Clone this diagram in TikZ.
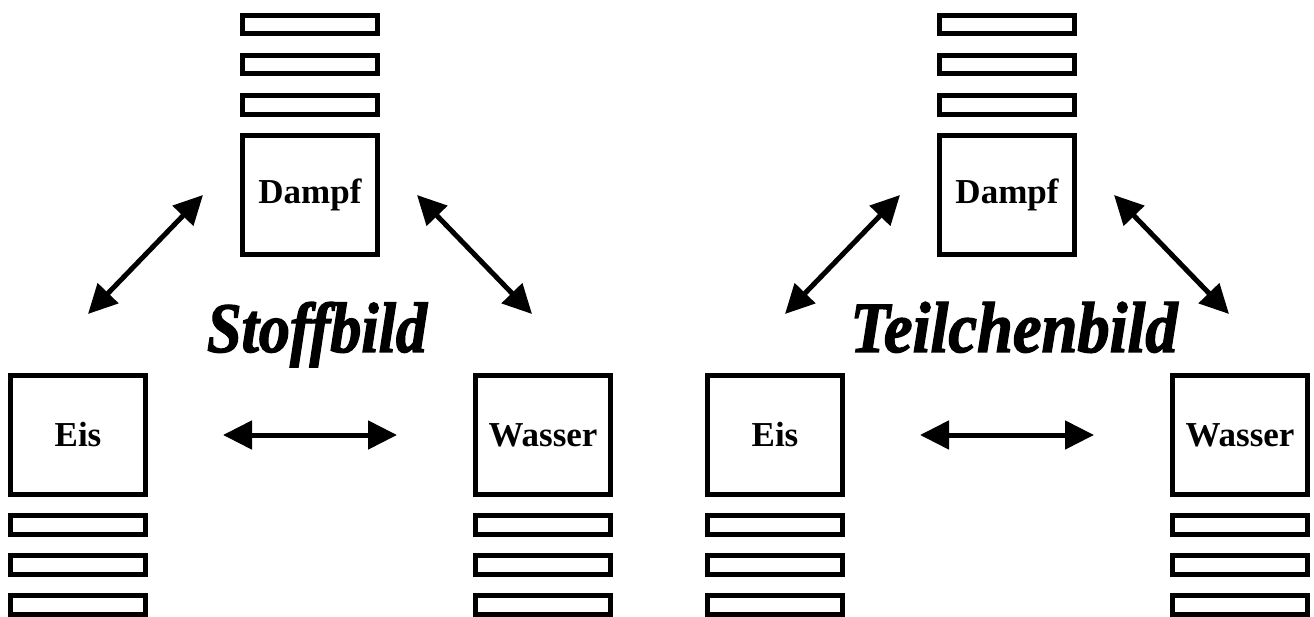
\documentclass[tikz,border=0pt]{standalone}
\usepackage{fontspec}
\setmainfont{Liberation Serif}
\newfontfamily\titlefont[FakeBold=2]{Liberation Serif}
\usetikzlibrary{arrows.meta}
\tikzset{
  phase/.style={draw, line width=5pt, minimum width=135pt, minimum height=119pt,
    inner sep=0pt, font=\fontsize{35}{40}\selectfont\bfseries},
  bar/.style={draw, line width=5pt, minimum width=135pt, minimum height=18.5pt, inner sep=0pt},
  dbl/.style={line width=5pt, {Triangle[length=29pt,width=28pt]}-{Triangle[length=29pt,width=28pt]}},
  titletext/.style={anchor=base, inner sep=0pt}
}
\begin{document}
\begin{tikzpicture}[x=1pt,y=-1pt]
\useasboundingbox (0,0) rectangle (1314,617);
\foreach \p/\dx/\t/\w in {a/0/Stoffbild/220, b/697/Teilchenbild/327}{
\begin{scope}[xshift=\dx pt]
  \node[phase] (\p-dampf) at (310,195) {Dampf};
  \node[bar] (\p-d1) at (310,24.5) {};
  \node[bar] (\p-d2) at (310,64.5) {};
  \node[bar] (\p-d3) at (310,105) {};
  \node[phase] (\p-eis) at (78,435) {Eis};
  \node[bar] (\p-e1) at (78,525) {};
  \node[bar] (\p-e2) at (78,565) {};
  \node[bar] (\p-e3) at (78,605) {};
  \node[phase] (\p-wasser) at (543,435) {Wasser};
  \node[bar] (\p-w1) at (543,525) {};
  \node[bar] (\p-w2) at (543,565) {};
  \node[bar] (\p-w3) at (543,605) {};
  \coordinate (\p-l1) at (88,314);
  \coordinate (\p-l2) at (203,195);
  \coordinate (\p-r1) at (417,195);
  \coordinate (\p-r2) at (532,314);
  \draw[dbl] (\p-l1) -- (\p-l2);
  \draw[dbl] (\p-r1) -- (\p-r2);
  \draw[dbl, shorten <=75pt, shorten >=76pt] (\p-eis.east) -- (\p-wasser.west);
  \node[titletext] (\p-title) at (317,352) {\resizebox{\w pt}{50pt}{\titlefont\bfseries\itshape \t}};
\end{scope}}
\end{tikzpicture}
\end{document}
